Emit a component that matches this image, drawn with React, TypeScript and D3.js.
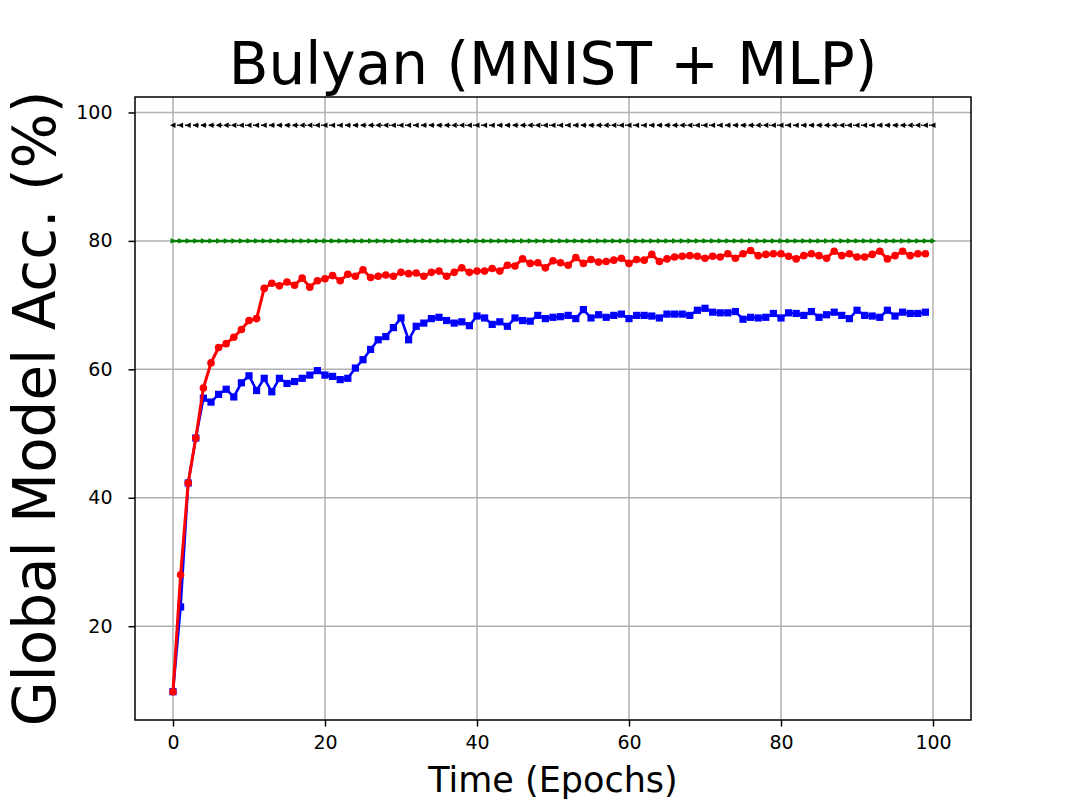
import { useEffect, useRef } from "react";
import * as d3 from "d3";

// Bulyan aggregation on MNIST + MLP, accuracy per epoch
const title = "Bulyan (MNIST + MLP)";
const xLabel = "Time (Epochs)";
const yLabel = "Global Model Acc. (%)";

const xTicks = [0, 20, 40, 60, 80, 100];
const yTicks = [20, 40, 60, 80, 100];

// red circles
const redAcc = [
  9.8, 28.0, 42.3, 49.3, 57.1, 61.0, 63.4, 64.0, 65.0, 66.2,
  67.6, 67.9, 72.6, 73.4, 73.0, 73.6, 73.1, 74.2, 72.8, 73.8,
  74.1, 74.6, 73.8, 74.8, 74.5, 75.5, 74.3, 74.5, 74.7, 74.5,
  75.1, 74.9, 75.0, 74.5, 75.1, 75.3, 74.5, 75.1, 75.8, 75.1,
  75.3, 75.3, 75.7, 75.3, 76.2, 76.1, 77.2, 76.5, 76.6, 75.8,
  76.9, 76.6, 76.2, 77.4, 76.5, 77.1, 76.7, 76.8, 77.0, 77.3,
  76.5, 77.1, 77.0, 77.9, 76.8, 77.2, 77.5, 77.6, 77.7, 77.6,
  77.3, 77.6, 77.5, 78.0, 77.3, 78.0, 78.5, 77.7, 77.9, 78.0,
  78.0, 77.6, 77.2, 77.7, 78.0, 77.7, 77.3, 78.4, 77.7, 78.0,
  77.5, 77.5, 77.9, 78.4, 77.2, 77.7, 78.4, 77.7, 78.0, 78.0,
];

// blue squares
const blueAcc = [
  9.8, 23.0, 42.3, 49.3, 55.5, 54.9, 56.1, 56.9, 55.7, 57.9,
  59.0, 56.7, 58.6, 56.5, 58.6, 57.8, 58.1, 58.6, 59.1, 59.8,
  59.1, 58.9, 58.4, 58.6, 60.2, 61.5, 63.1, 64.6, 65.1, 66.5,
  68.0, 64.6, 66.7, 67.2, 67.9, 68.1, 67.6, 67.2, 67.4, 66.8,
  68.3, 68.0, 67.0, 67.4, 66.7, 68.0, 67.6, 67.5, 68.4, 67.9,
  68.1, 68.2, 68.4, 67.9, 69.3, 68.0, 68.5, 68.1, 68.4, 68.6,
  67.9, 68.4, 68.4, 68.3, 68.0, 68.6, 68.6, 68.6, 68.4, 69.2,
  69.5, 68.9, 68.8, 68.8, 69.0, 67.8, 68.1, 68.0, 68.1, 68.7,
  68.0, 68.8, 68.7, 68.4, 69.0, 68.1, 68.5, 68.9, 68.4, 67.9,
  69.2, 68.4, 68.3, 68.1, 69.2, 68.3, 68.9, 68.7, 68.7, 68.9,
];

// reference lines, 0..100
const blackAcc = [
  98, 98, 98, 98, 98, 98, 98, 98, 98, 98, 98, 98, 98, 98, 98, 98, 98, 98, 98, 98,
  98, 98, 98, 98, 98, 98, 98, 98, 98, 98, 98, 98, 98, 98, 98, 98, 98, 98, 98, 98,
  98, 98, 98, 98, 98, 98, 98, 98, 98, 98, 98, 98, 98, 98, 98, 98, 98, 98, 98, 98,
  98, 98, 98, 98, 98, 98, 98, 98, 98, 98, 98, 98, 98, 98, 98, 98, 98, 98, 98, 98,
  98, 98, 98, 98, 98, 98, 98, 98, 98, 98, 98, 98, 98, 98, 98, 98, 98, 98, 98, 98,
  98,
];
const greenAcc = [
  80, 80, 80, 80, 80, 80, 80, 80, 80, 80, 80, 80, 80, 80, 80, 80, 80, 80, 80, 80,
  80, 80, 80, 80, 80, 80, 80, 80, 80, 80, 80, 80, 80, 80, 80, 80, 80, 80, 80, 80,
  80, 80, 80, 80, 80, 80, 80, 80, 80, 80, 80, 80, 80, 80, 80, 80, 80, 80, 80, 80,
  80, 80, 80, 80, 80, 80, 80, 80, 80, 80, 80, 80, 80, 80, 80, 80, 80, 80, 80, 80,
  80, 80, 80, 80, 80, 80, 80, 80, 80, 80, 80, 80, 80, 80, 80, 80, 80, 80, 80, 80,
  80,
];

const WIDTH = 1079;
const HEIGHT = 809;
const FONT = "DejaVu Sans, Liberation Sans, sans-serif";

export default function App() {
  const ref = useRef<SVGSVGElement | null>(null);

  useEffect(() => {
    const svg = d3.select(ref.current);
    svg.selectAll("*").remove();

    // axes box, like matplotlib's default subplot params
    const margin = { left: 135, right: 108, top: 97, bottom: 89 };
    const x0 = margin.left;
    const x1 = WIDTH - margin.right;
    const y0 = margin.top;
    const y1 = HEIGHT - margin.bottom;

    const toPts = (arr: number[]) => arr.map((v, i) => [i, v] as [number, number]);
    const red = toPts(redAcc);
    const blue = toPts(blueAcc);
    const black = toPts(blackAcc);
    const green = toPts(greenAcc);
    const all = [...red, ...blue, ...black, ...green];

    const [xmin, xmax] = d3.extent(all, (d) => d[0]) as [number, number];
    const [ymin, ymax] = d3.extent(all, (d) => d[1]) as [number, number];
    const xPad = (xmax - xmin) * 0.05;
    const yPad = (ymax - ymin) * 0.05;

    const xScale = d3.scaleLinear().domain([xmin - xPad, xmax + xPad]).range([x0, x1]);
    const yScale = d3.scaleLinear().domain([ymin - yPad, ymax + yPad]).range([y1, y0]);

    svg.append("rect")
      .attr("width", WIDTH).attr("height", HEIGHT).attr("fill", "white");

    // grid
    const grid = svg.append("g").attr("stroke", "#b0b0b0").attr("stroke-width", 1.5);
    grid.selectAll("line.gx").data(xTicks).join("line")
      .attr("x1", (d) => xScale(d)).attr("x2", (d) => xScale(d))
      .attr("y1", y0).attr("y2", y1);
    grid.selectAll("line.gy").data(yTicks).join("line")
      .attr("x1", x0).attr("x2", x1)
      .attr("y1", (d) => yScale(d)).attr("y2", (d) => yScale(d));

    const plot = svg.append("g");
    const lineGen = d3.line<[number, number]>()
      .x((d) => xScale(d[0]))
      .y((d) => yScale(d[1]));

    // black reference: dotted with left triangles
    plot.append("path")
      .attr("d", lineGen(black))
      .attr("fill", "none").attr("stroke", "black")
      .attr("stroke-width", 1.5).attr("stroke-dasharray", "1.5,2.5");
    plot.selectAll("path.lt").data(black).join("path")
      .attr("class", "lt")
      .attr("d", "M-3,0L2.5,-2.8L2.5,2.8Z")
      .attr("transform", (d) => `translate(${xScale(d[0])},${yScale(d[1])})`)
      .attr("fill", "black");

    // green reference: solid with right triangles
    plot.append("path")
      .attr("d", lineGen(green))
      .attr("fill", "none").attr("stroke", "green").attr("stroke-width", 2.5);
    plot.selectAll("path.rt").data(green).join("path")
      .attr("class", "rt")
      .attr("d", "M3,0L-2.5,-2.8L-2.5,2.8Z")
      .attr("transform", (d) => `translate(${xScale(d[0])},${yScale(d[1])})`)
      .attr("fill", "green");

    // blue squares
    plot.append("path")
      .attr("d", lineGen(blue))
      .attr("fill", "none").attr("stroke", "blue").attr("stroke-width", 2.6)
      .attr("stroke-linejoin", "round");
    plot.selectAll("rect.sq").data(blue).join("rect")
      .attr("class", "sq")
      .attr("x", (d) => xScale(d[0]) - 3.6).attr("y", (d) => yScale(d[1]) - 3.6)
      .attr("width", 7.2).attr("height", 7.2)
      .attr("fill", "blue");

    // red circles
    plot.append("path")
      .attr("d", lineGen(red))
      .attr("fill", "none").attr("stroke", "red").attr("stroke-width", 3)
      .attr("stroke-linejoin", "round");
    plot.selectAll("circle.dot").data(red).join("circle")
      .attr("class", "dot")
      .attr("cx", (d) => xScale(d[0])).attr("cy", (d) => yScale(d[1]))
      .attr("r", 3.8)
      .attr("fill", "red");

    // axes
    const xAxis = svg.append("g")
      .attr("transform", `translate(0,${y1})`)
      .call(d3.axisBottom(xScale).tickValues(xTicks).tickSize(6.5).tickPadding(9));
    const yAxis = svg.append("g")
      .attr("transform", `translate(${x0},0)`)
      .call(d3.axisLeft(yScale).tickValues(yTicks).tickSize(6.5).tickPadding(16));
    [xAxis, yAxis].forEach((g) => {
      g.select(".domain").remove();
      g.selectAll(".tick line").attr("stroke", "black").attr("stroke-width", 1.5);
      g.selectAll(".tick text")
        .attr("fill", "black")
        .style("font-family", FONT)
        .style("font-size", "19px");
    });

    // spines
    svg.append("rect")
      .attr("x", x0).attr("y", y0)
      .attr("width", x1 - x0).attr("height", y1 - y0)
      .attr("fill", "none").attr("stroke", "black").attr("stroke-width", 1.5);

    // labels
    svg.append("text")
      .attr("x", (x0 + x1) / 2).attr("y", 84)
      .attr("text-anchor", "middle")
      .style("font-family", FONT).style("font-size", "58px")
      .text(title);
    svg.append("text")
      .attr("x", (x0 + x1) / 2).attr("y", 792)
      .attr("text-anchor", "middle")
      .style("font-family", FONT).style("font-size", "35px")
      .text(xLabel);
    svg.append("text")
      .attr("transform", `translate(55,${(y0 + y1) / 2}) rotate(-90)`)
      .attr("text-anchor", "middle")
      .style("font-family", FONT).style("font-size", "58px")
      .text(yLabel);
  }, []);

  return (
    <svg
      ref={ref}
      width={WIDTH}
      height={HEIGHT}
      style={{ position: "absolute", left: 0, top: 0 }}
    />
  );
}
